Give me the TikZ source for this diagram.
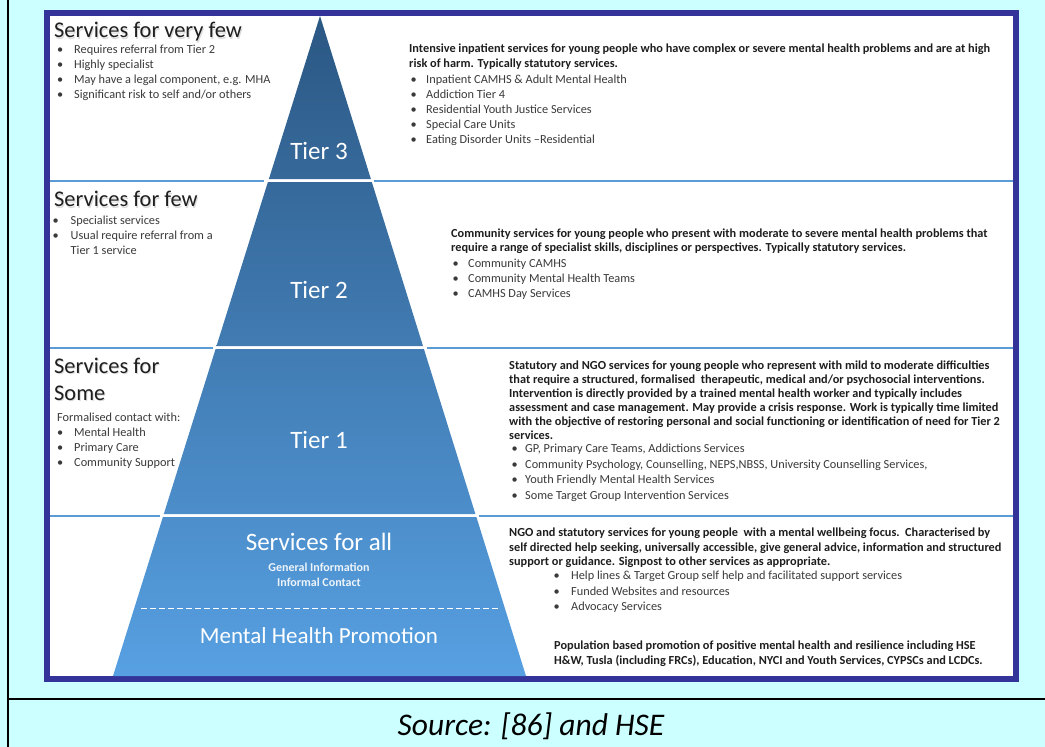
\documentclass[tikz,border=0pt]{standalone}
\usepackage{fontspec}
\setmainfont{Carlito}
\definecolor{bgcyan}{HTML}{CCFFFF}
\definecolor{frameblue}{HTML}{333399}
\definecolor{sepblue}{HTML}{5B9BD5}
\definecolor{pyrtop}{HTML}{2B5783}
\definecolor{pyrbot}{HTML}{57A0E2}
\definecolor{bodytxt}{HTML}{3A3A3A}
\definecolor{boldtxt}{HTML}{1E1E1E}
\newcommand{\bitem}[1]{\makebox[#1][l]{\textbullet}}
\tikzset{
  headtxt/.style={anchor=base west,inner sep=0pt,font=\fontsize{22.4}{27}\selectfont,text=black!88},
  headshade/.style={headtxt,text=black!40,opacity=0.35},
  listtxt/.style={anchor=north west,inner sep=0pt,align=left,font=\fontsize{12.3}{15}\selectfont,text=bodytxt},
  paratxt/.style={anchor=north west,inner sep=0pt,align=left,font=\fontsize{12.3}{14.5}\selectfont\bfseries,text=boldtxt},
  tierlbl/.style={text=white,inner sep=0pt,font=\fontsize{25}{29}\selectfont},
  smalllbl/.style={text=white,opacity=0.9,inner sep=0pt,font=\fontsize{12}{15}\selectfont\bfseries},
  seprule/.style={sepblue,line width=2pt},
}

\begin{document}
\begin{tikzpicture}[x=1pt,y=-1pt]
  \useasboundingbox (0,0) rectangle (1045,747);
  % background and outer frame
  \fill[bgcyan] (0,0) rectangle (1045,747);
  \draw[line width=2.5pt] (8,0) -- (8,747);
  \draw[line width=2.5pt] (8,699) -- (1045,699);
  \fill[white] (50,16) rectangle (1013,676);
  \draw[frameblue,line width=6pt] (47,13) rectangle (1016,679);

  % separators between the tiers
  \draw[seprule] (50,180.5) -- (264,180.5) (374,180.5) -- (1013,180.5);
  \draw[seprule] (50,347.5) -- (213,347.5) (427,347.5) -- (1013,347.5);
  \draw[seprule] (50,515.5) -- (160,515.5) (479,515.5) -- (1013,515.5);

  % pyramid
  \shade[top color=pyrtop,bottom color=pyrbot!25!pyrtop]
    (320,16) -- (370.9,179) -- (268.9,179) -- cycle;
  \shade[top color=pyrbot!25!pyrtop,bottom color=pyrbot!50!pyrtop]
    (267.9,182) -- (371.8,182) -- (423,346) -- (216.5,346) -- cycle;
  \shade[top color=pyrbot!51!pyrtop,bottom color=pyrbot!75!pyrtop]
    (215.6,349) -- (423.9,349) -- (475.4,514) -- (163.8,514) -- cycle;
  \shade[top color=pyrbot!76!pyrtop,bottom color=pyrbot]
    (162.9,517) -- (476.4,517) -- (526,676) -- (113,676) -- cycle;
  \draw[white,dash pattern=on 6pt off 3pt] (141,608) -- (499,608);

  \node[tierlbl] (tier3) at (319,151) {Tier 3};
  \node[tierlbl] (tier2) at (319,290) {Tier 2};
  \node[tierlbl] (tier1) at (319,440) {Tier 1};
  \node[tierlbl] (forall) at (319,542) {Services for all};
  \node[smalllbl] (geninfo) at (319,567) {General Information};
  \node[smalllbl] (informal) at (319,582) {Informal Contact};
  \node[tierlbl,font=\fontsize{23}{27}\selectfont] (promo) at (319,636) {Mental Health Promotion};

  % Tier 3
  \node[headshade] (veryfewsh) at (55,39) {Services for very few};
  \node[headtxt] (veryfew) at (54,37.5) {Services for very few};
  \node[listtxt] (veryfewlist) at (57,44.5) {%
    \bitem{17pt}Requires referral from Tier 2\\
    \bitem{17pt}Highly specialist\\
    \bitem{17pt}May have a legal component, e.g. MHA\\
    \bitem{17pt}Significant risk to self and/or others};
  \node[paratxt] (t3para) at (409,44) {%
    Intensive inpatient services for young people who have complex or severe mental health problems and are at high\\
    risk of harm. Typically statutory services.};
  \node[listtxt] (t3list) at (410.5,74.5) {%
    \bitem{15.5pt}Inpatient CAMHS \& Adult Mental Health\\
    \bitem{15.5pt}Addiction Tier 4\\
    \bitem{15.5pt}Residential Youth Justice Services\\
    \bitem{15.5pt}Special Care Units\\
    \bitem{15.5pt}Eating Disorder Units --Residential};

  % Tier 2
  \node[headshade] (fewsh) at (55,208) {Services for few};
  \node[headtxt] (few) at (54,206.5) {Services for few};
  \node[listtxt] (fewlist) at (52.5,215.5) {%
    \bitem{18pt}Specialist services\\
    \bitem{18pt}Usual require referral from a\\
    \hspace*{18pt}Tier 1 service};
  \node[paratxt] (t2para) at (451,228.5) {%
    Community services for young people who present with moderate to severe mental health problems that\\
    require a range of specialist skills, disciplines or perspectives. Typically statutory services.};
  \node[listtxt] (t2list) at (452.5,258.5) {%
    \bitem{15.5pt}Community CAMHS\\
    \bitem{15.5pt}Community Mental Health Teams\\
    \bitem{15.5pt}CAMHS Day Services};

  % Tier 1
  \node[headshade,anchor=north west,align=left] (somesh) at (55,359) {Services for\\Some};
  \node[headtxt,anchor=north west,align=left] (some) at (54,357.5) {Services for\\Some};
  \node[listtxt] (somelist) at (57,413) {%
    Formalised contact with:\\
    \bitem{17pt}Mental Health\\
    \bitem{17pt}Primary Care\\
    \bitem{17pt}Community Support};
  \node[paratxt,font=\fontsize{12.3}{14}\selectfont\bfseries] (t1para) at (509,360.5) {%
    Statutory and NGO services for young people who represent with mild to moderate difficulties\\
    that require a structured, formalised\ \ therapeutic, medical and/or psychosocial interventions.\\
    Intervention is directly provided by a trained mental health worker and typically includes\\
    assessment and case management. May provide a crisis response. Work is typically time limited\\
    with the objective of restoring personal and social functioning or identification of need for Tier 2\\
    services.};
  \node[listtxt,font=\fontsize{12.3}{15.6}\selectfont] (t1list) at (511.5,444) {%
    \bitem{13.5pt}GP, Primary Care Teams, Addictions Services\\
    \bitem{13.5pt}Community Psychology, Counselling, NEPS,NBSS, University Counselling Services,\\
    \bitem{13.5pt}Youth Friendly Mental Health Services\\
    \bitem{13.5pt}Some Target Group Intervention Services};

  % services for all
  \node[paratxt] (allpara) at (509,528) {%
    NGO and statutory services for young people\ \ with a mental wellbeing focus.\ \ Characterised by\\
    self directed help seeking, universally accessible, give general advice, information and structured\\
    support or guidance. Signpost to other services as appropriate.};
  \node[listtxt,font=\fontsize{12.3}{15.4}\selectfont] (alllist) at (553.5,571) {%
    \bitem{17.5pt}Help lines \& Target Group self help and facilitated support services\\
    \bitem{17.5pt}Funded Websites and resources\\
    \bitem{17.5pt}Advocacy Services};
  \node[paratxt,font=\fontsize{12.3}{15}\selectfont\bfseries] (promopara) at (554,641) {%
    Population based promotion of positive mental health and resilience including HSE\\
    H\&W, Tusla (including FRCs), Education, NYCI and Youth Services, CYPSCs and LCDCs.};

  % caption
  \node[font=\fontsize{31.5}{36}\selectfont\itshape] (source) at (531,726) {Source: [86] and HSE};
\end{tikzpicture}
\end{document}
